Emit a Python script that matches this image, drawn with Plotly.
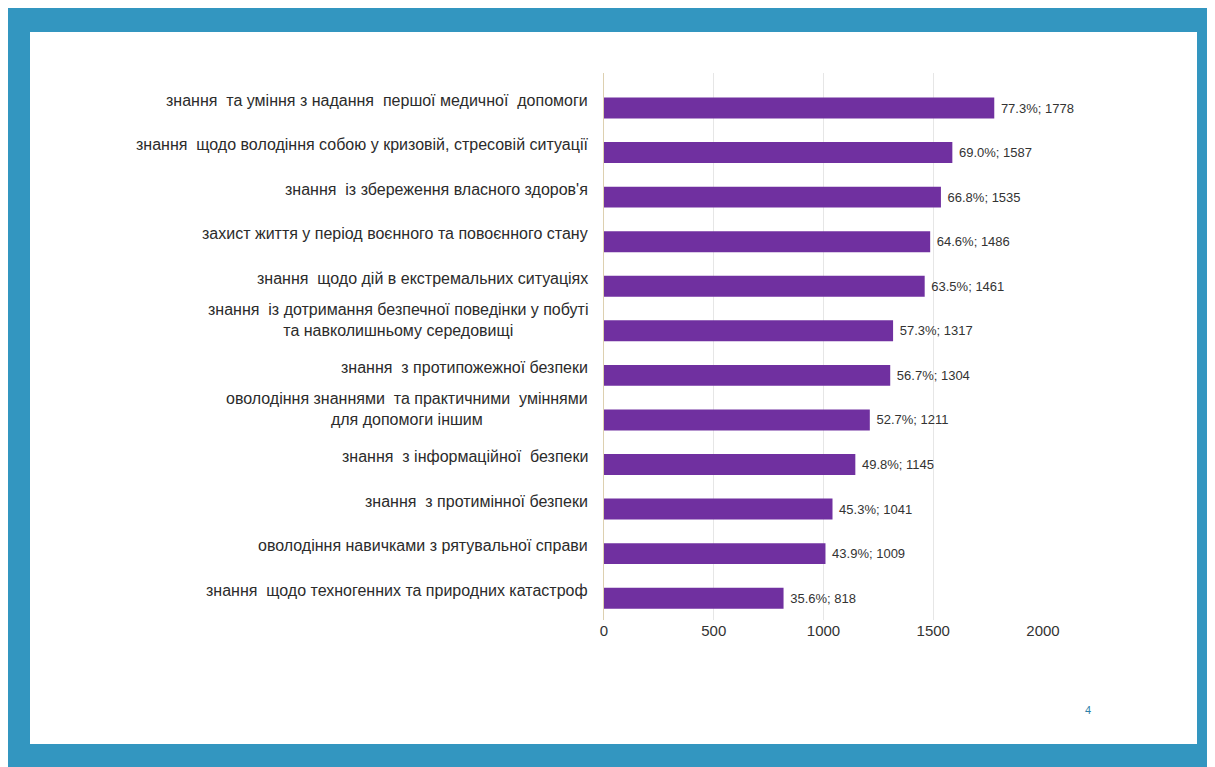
import plotly.graph_objects as go

categories = [
    "знання  та уміння з надання  першої медичної  допомоги",
    "знання  щодо володіння собою у кризовій, стресовій ситуації",
    "знання  із збереження власного здоров'я",
    "захист життя у період воєнного та повоєнного стану",
    "знання  щодо дій в екстремальних ситуаціях",
    "знання  із дотримання безпечної поведінки у побуті<br>та навколишньому середовищі",
    "знання  з протипожежної безпеки",
    "оволодіння знаннями  та практичними  уміннями<br>для допомоги іншим",
    "знання  з інформаційної  безпеки",
    "знання  з протимінної безпеки",
    "оволодіння навичками з рятувальної справи",
    "знання  щодо техногенних та природних катастроф",
]
counts = [1778, 1587, 1535, 1486, 1461, 1317, 1304, 1211, 1145, 1041, 1009, 818]
percents = ["77.3", "69.0", "66.8", "64.6", "63.5", "57.3", "56.7", "52.7", "49.8", "45.3", "43.9", "35.6"]
x_ticks = [0, 500, 1000, 1500, 2000]
page_number = "4"

ids = list(range(len(categories)))
labels = ["\u00a0" + f"{p}%; {c}" for p, c in zip(percents, counts)]

FONT = "Liberation Sans, Arial, sans-serif"
W, H = 1207, 759
L, R, T, B = 596, 1035, 65, 612
PW, PH = R - L, B - T

fig = go.Figure()
fig.add_trace(go.Bar(
    y=ids, x=counts, orientation="h",
    marker=dict(color="#7030A0", line=dict(width=0)),
    width=0.47,
    text=labels, textposition="outside", constraintext="none",
    textfont=dict(family=FONT, size=13, color="#333333"),
    cliponaxis=False, hoverinfo="skip",
))

annotations = []
for i, cat in zip(ids, categories):
    two = "<br>" in cat
    annotations.append(dict(
        x=-14 / PW, xref="paper", y=i, yref="y",
        xanchor="right", yanchor="middle", align="center",
        text=cat, showarrow=False, yshift=11 if two else 8,
        font=dict(family=FONT, size=16, color="#2b2b2b"),
    ))
annotations.append(dict(
    x=(1085 - L) / PW, xref="paper", y=-(710 - B) / PH, yref="paper",
    text=page_number, showarrow=False,
    font=dict(family=FONT, size=11, color="#2f7fa8"),
))

shapes = [
    dict(type="rect", xref="paper", yref="paper", layer="below",
         x0=-3, x1=3, y0=-3, y1=3,
         fillcolor="#3396C0", line=dict(width=0)),
    dict(type="rect", xref="paper", yref="paper", layer="below",
         x0=(22 - L) / PW, x1=(1189 - L) / PW,
         y0=-(736 - B) / PH, y1=1 + (T - 24) / PH,
         fillcolor="#FFFFFF", line=dict(width=0)),
]

fig.update_layout(
    width=W, height=H,
    margin=dict(l=L, r=W - R, t=T, b=H - B, pad=0),
    paper_bgcolor="#FFFFFF", plot_bgcolor="rgba(0,0,0,0)",
    showlegend=False,
    annotations=annotations, shapes=shapes,
    xaxis=dict(range=[0, 2000], tickvals=x_ticks, ticktext=[str(t) for t in x_ticks],
               showgrid=True, gridcolor="#E6E6E6", gridwidth=1, zeroline=False,
               showline=False, ticks="",
               tickfont=dict(family=FONT, size=15, color="#333333")),
    yaxis=dict(range=[11.49, -0.786], tickvals=ids, showticklabels=False,
               showgrid=False, zeroline=False, showline=True, linecolor="#DDD0B0", linewidth=1,
               ticks=""),
)

fig.write_html("out.html")
